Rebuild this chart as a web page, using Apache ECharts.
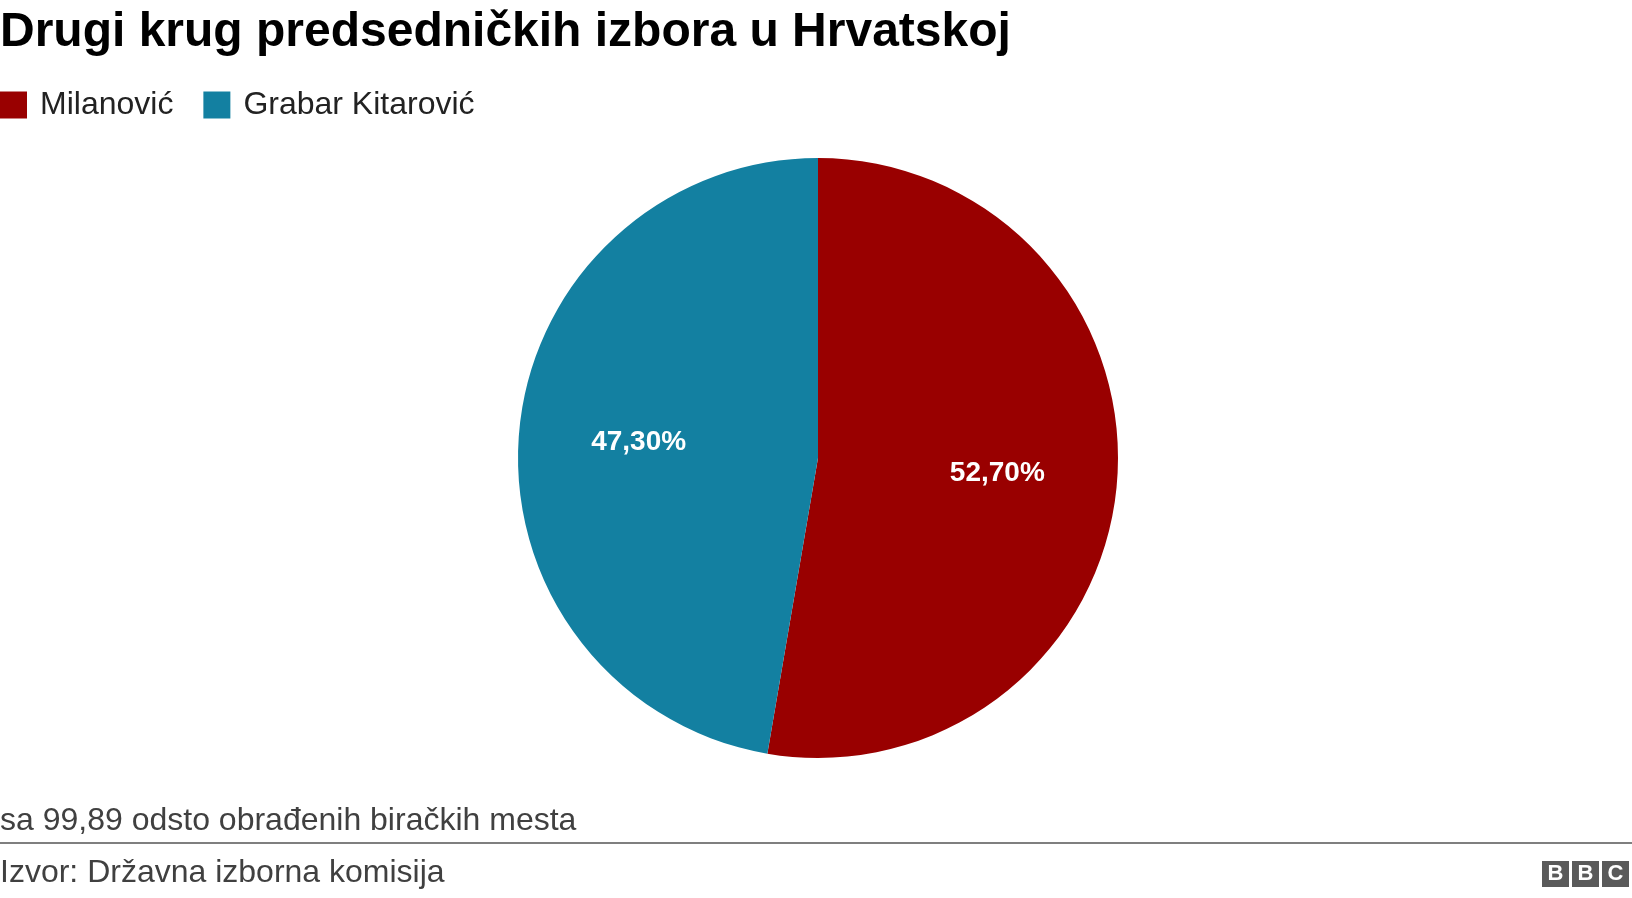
<!DOCTYPE html>
<html>
<head>
<meta charset="utf-8">
<script src="https://cdn.jsdelivr.net/npm/echarts@6/dist/echarts.min.js"></script>
<style>
html,body{margin:0;padding:0;background:#fff;}
#chart{width:1632px;height:898px;}
</style>
</head>
<body>
<div id="chart"></div>
<script>
const titleText = 'Drugi krug predsedničkih izbora u Hrvatskoj';
const noteText = 'sa 99,89 odsto obrađenih biračkih mesta';
const sourceText = 'Izvor: Državna izborna komisija';
const categories = ['Milanović', 'Grabar Kitarović'];
const values = [52.70, 47.30];
const colors = ['#990000', '#1380A1'];

const font = '"Liberation Sans", Arial, Helvetica, sans-serif';
const pieData = categories.map((c, i) => ({ name: c, value: values[i], itemStyle: { color: colors[i] } }));
const fmt = p => p.value.toFixed(2).replace('.', ',') + '%';

const chart = echarts.init(document.getElementById('chart'), null, { renderer: 'canvas' });
chart.setOption({
  backgroundColor: '#ffffff',
  animation: false,
  title: [
    { text: titleText, left: 0, top: 9, padding: 0, textStyle: { fontFamily: font, fontSize: 48, fontWeight: 'bold', color: '#000000' } },
    { text: noteText, left: 0, top: 805, padding: 0, textStyle: { fontFamily: font, fontSize: 32, fontWeight: 'normal', color: '#404040' } },
    { text: sourceText, left: 0, top: 857, padding: 0, textStyle: { fontFamily: font, fontSize: 32, fontWeight: 'normal', color: '#404040' } }
  ],
  legend: {
    data: categories,
    left: 0, top: 89, padding: 0,
    itemWidth: 27, itemHeight: 27, itemGap: 30,
    icon: 'rect',
    selectedMode: false,
    textStyle: { fontFamily: font, fontSize: 32, color: '#222222', padding: [0, 0, 0, 8] }
  },
  series: [
    {
      type: 'pie',
      center: [818, 458],
      radius: [0, 300],
      startAngle: 90,
      clockwise: true,
      data: pieData,
      label: { show: false },
      labelLine: { show: false },
      emphasis: { disabled: true }
    },
    {
      type: 'pie',
      center: [818, 458],
      radius: [54, 300],
      startAngle: 90,
      clockwise: true,
      silent: true,
      data: categories.map((c, i) => ({ name: c, value: values[i], itemStyle: { color: 'rgba(0,0,0,0)' } })),
      label: { show: true, position: 'inside', formatter: fmt, fontFamily: font, fontSize: 28, fontWeight: 'bold', color: '#ffffff' },
      labelLine: { show: false },
      emphasis: { disabled: true }
    }
  ],
  graphic: [
    { type: 'line', shape: { x1: 0, y1: 843, x2: 1632, y2: 843 }, style: { stroke: '#7f7f7f', lineWidth: 2 } },
    { type: 'rect', shape: { x: 1542, y: 861, width: 27, height: 26 }, style: { fill: '#5a5a5a' } },
    { type: 'rect', shape: { x: 1572, y: 861, width: 27, height: 26 }, style: { fill: '#5a5a5a' } },
    { type: 'rect', shape: { x: 1602, y: 861, width: 27, height: 26 }, style: { fill: '#5a5a5a' } },
    { type: 'text', style: { text: 'B', x: 1555.5, y: 874, align: 'center', verticalAlign: 'middle', fill: '#ffffff', font: 'bold 22px ' + font } },
    { type: 'text', style: { text: 'B', x: 1585.5, y: 874, align: 'center', verticalAlign: 'middle', fill: '#ffffff', font: 'bold 22px ' + font } },
    { type: 'text', style: { text: 'C', x: 1615.5, y: 874, align: 'center', verticalAlign: 'middle', fill: '#ffffff', font: 'bold 22px ' + font } }
  ]
});
</script>
</body>
</html>
